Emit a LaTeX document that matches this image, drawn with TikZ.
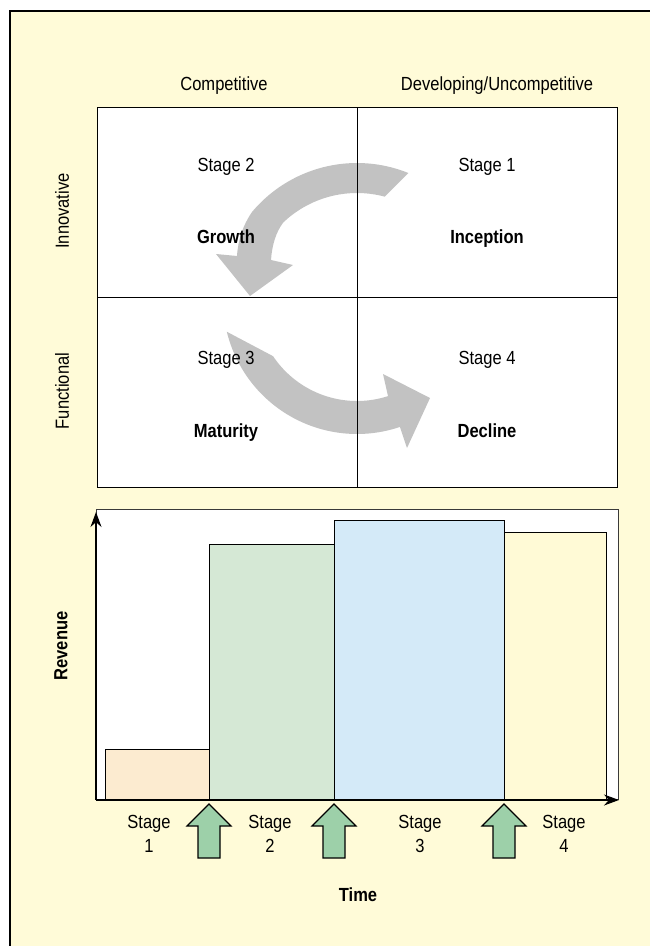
\documentclass[tikz,border=0pt]{standalone}
\usepackage{fontspec}
\setmainfont{Liberation Sans}[FakeStretch=0.87]
\usetikzlibrary{arrows.meta}
\definecolor{cream}{HTML}{FFFBD8}
\definecolor{peach}{HTML}{FCEBD0}
\definecolor{sgreen}{HTML}{D5E8D5}
\definecolor{sblue}{HTML}{D4EAF8}
\definecolor{syellow}{HTML}{FFFAD6}
\definecolor{agreen}{HTML}{9DD0A9}
\definecolor{agray}{HTML}{C2C2C2}
\definecolor{lineg}{HTML}{3A3A3A}
\tikzset{
  cell/.style={draw=black, line width=1.3, minimum width=260, minimum height=190, anchor=north west, inner sep=0},
  bar/.style={draw=black, line width=1.1, anchor=south west, inner sep=0},
  lbl/.style={anchor=base, inner sep=0},
  blbl/.style={anchor=base, inner sep=0, font=\fontsize{19}{24}\selectfont\bfseries},
  side/.style={rotate=90, inner sep=0},
  axis/.style={draw=black, line width=1.3, -{Stealth[length=15,width=11]}},
  uparrow/.style={draw=black, line width=1.1, fill=agreen},
  bigarrow/.style={fill=agray}
}
\begin{document}
\begin{tikzpicture}[x=1pt, y=-1pt, font=\fontsize{19}{24}\selectfont]
\path[use as bounding box] (0,0) rectangle (649,946);
\fill[white] (0,0) rectangle (649,946);
\draw[line width=1.6, fill=cream] (10,11) rectangle (700,1000);

% quadrant background
\fill[white] (97,107) rectangle (617,487);

% big gray arrows
\fill[bigarrow]
  plot[domain=68:140, samples=40] ({357+137*cos(\x)},{300-137*sin(\x)})
  .. controls (243,225) and (238,240) .. (237,256)
  -- (216,254) -- (250,296) -- (293,265) -- (271,260)
  .. controls (272,245) and (276,232) .. (283.3,222.4)
  -- plot[domain=133.5:75, samples=40] ({357+107*cos(\x)},{300-107*sin(\x)})
  -- cycle;
\fill[bigarrow]
  plot[domain=193.7:288.7, samples=50] ({357+134*cos(\x)},{300-134*sin(\x)})
  -- (407,448) -- (430,398) -- (383,374) -- (388,396)
  -- plot[domain=288:213.8, samples=50] ({357+101*cos(\x)},{300-101*sin(\x)})
  -- cycle;

% quadrant cells
\node[cell] (q2) at (97,107) {};
\node[cell] (q1) at (357,107) {};
\node[cell] (q3) at (97,297) {};
\node[cell] (q4) at (357,297) {};

% headers
\node[lbl] (hc) at (224,90) {Competitive};
\node[lbl] (hd) at (497,90) {Developing/Uncompetitive};
\node[side] (hi) at (62,211) {Innovative};
\node[side] (hf) at (62,391) {Functional};

% quadrant texts
\node[lbl] (s2) at (226,171) {Stage 2};
\node[blbl] (t2) at (226,243) {Growth};
\node[lbl] (s1) at (487,171) {Stage 1};
\node[blbl] (t1) at (487,243) {Inception};
\node[lbl] (s3) at (226,364) {Stage 3};
\node[blbl] (t3) at (226,437) {Maturity};
\node[lbl] (s4) at (487,364) {Stage 4};
\node[blbl] (t4) at (487,437) {Decline};

% chart
\node[draw=lineg, line width=1.3, fill=white, minimum width=522, minimum height=290, anchor=south west, inner sep=0] (chart) at (96,800) {};
\node[bar, fill=peach, minimum width=104, minimum height=50] (b1) at (105,800) {};
\node[bar, fill=sgreen, minimum width=125, minimum height=255] (b2) at (209,800) {};
\node[bar, fill=sblue, minimum width=170, minimum height=279] (b3) at (334,800) {};
\node[bar, fill=syellow, minimum width=102, minimum height=267] (b4) at (504,800) {};

\coordinate (O) at (96,800);
\coordinate (ytop) at (96,512);
\coordinate (xend) at (619,800);
\draw[axis] (O) -- (ytop);
\draw[axis] (O) -- (xend);

\foreach \c in {209,334,504}{
  \draw[uparrow] (\c,804) -- (\c+22,826) -- (\c+11,826) -- (\c+11,858)
    -- (\c-11,858) -- (\c-11,826) -- (\c-22,826) -- cycle;
}

\node[lbl, align=center] (l1) at (149,852) {Stage\\1};
\node[lbl, align=center] (l2) at (270,852) {Stage\\2};
\node[lbl, align=center] (l3) at (420,852) {Stage\\3};
\node[lbl, align=center] (l4) at (564,852) {Stage\\4};
\node[blbl] (time) at (358,901) {Time};
\node[side, font=\fontsize{19}{24}\selectfont\bfseries] (rev) at (61,646) {Revenue};
\end{tikzpicture}
\end{document}
